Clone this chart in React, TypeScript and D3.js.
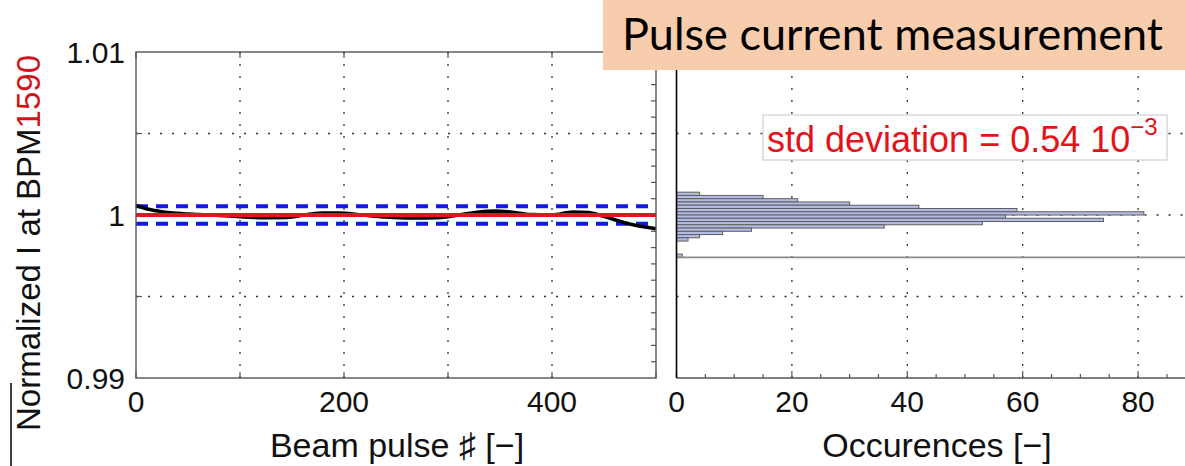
import React from "react";
import * as d3 from "d3";

// ---- data ----
const pulseIdx = [0, 12, 25, 45, 60, 90, 120, 145, 165, 180, 195, 215, 240, 265, 290, 310, 330, 345, 360, 380, 400, 420, 435, 448, 462, 478, 490, 500];
const normCurrent = [1.00058, 1.00035, 1.0002, 1.00008, 1.00003, 0.99994, 0.99984, 0.99985, 1.00003, 1.00012, 1.00012, 1.00002, 0.99988, 0.99982, 0.99984, 1.0, 1.00018, 1.00024, 1.00018, 1.00003, 1.0, 1.00018, 1.00015, 0.99995, 0.99968, 0.9994, 0.99926, 0.99916];

const binCenters = [1.0013, 1.0011, 1.0009, 1.0007, 1.0005, 1.0003, 1.0001, 0.9999, 0.9997, 0.9995, 0.9993, 0.9991, 0.9989, 0.9987, 0.9985, 0.9975];
const binCounts = [4, 15, 21, 30, 42, 59, 81, 57, 74, 53, 36, 13, 8, 4, 2, 1];
const binWidth = 0.0002;

const meanLevel = 1;
const stdDev = 0.00054;
const refLevel = 0.9974;

const yTickVals = [0.99, 1, 1.01];
const yTickLabels = ["0.99", "1", "1.01"];
const yGridVals = [0.995, 1, 1.005];
const xLeftLabels = [0, 200, 400];
const xLeftTicks = [0, 100, 200, 300, 400, 500];
const xLeftGrid = [100, 200, 300, 400];
const xRightLabels = [0, 20, 40, 60, 80];
const xRightMinor = d3.range(0, 90, 5);

const FONT = "'Liberation Sans', Arial, Helvetica, sans-serif";

export default function App() {
  const W = 1185;
  const H = 466;
  const y = d3.scaleLinear().domain([0.99, 1.01]).range([378, 52]);
  const xL = d3.scaleLinear().domain([0, 500]).range([136, 656]);
  const xR = d3.scaleLinear().domain([0, 90]).range([676.5, 676.5 + 90 * 5.77]);

  const curve = d3
    .line<number>()
    .x((_, i) => xL(pulseIdx[i]))
    .y((d) => y(d))
    .curve(d3.curveMonotoneX);

  const yMinor = d3.range(0.991, 1.0095, 0.001);
  const dot = "2,10";

  return (
    <svg
      width={W}
      height={H}
      style={{ position: "absolute", left: 0, top: 0, background: "#fff" }}
      fontFamily={FONT}
    >
      <rect x={0} y={0} width={W} height={H} fill="#fff" />

      {/* ---------- left panel ---------- */}
      <g>
        {xLeftGrid.map((v) => (
          <line key={"vg" + v} x1={xL(v)} x2={xL(v)} y1={52} y2={378} stroke="#333" strokeWidth={1.3} strokeDasharray={dot} />
        ))}
        {yGridVals.map((v) => (
          <line key={"hg" + v} x1={136} x2={656} y1={y(v)} y2={y(v)} stroke="#333" strokeWidth={1.3} strokeDasharray={dot} />
        ))}
        {xLeftTicks.map((v) => (
          <g key={"xt" + v}>
            <line x1={xL(v)} x2={xL(v)} y1={378} y2={372} stroke="#555" strokeWidth={1.2} />
            <line x1={xL(v)} x2={xL(v)} y1={52} y2={58} stroke="#555" strokeWidth={1.2} />
          </g>
        ))}
        {[0.995, 1, 1.005].map((v) => (
          <line key={"ylt" + v} x1={136} x2={142} y1={y(v)} y2={y(v)} stroke="#555" strokeWidth={1.2} />
        ))}
        {yMinor.map((v, i) => (
          <line key={"yrt" + i} x1={656} x2={651} y1={y(v)} y2={y(v)} stroke="#555" strokeWidth={1.2} />
        ))}

        {[meanLevel + stdDev, meanLevel - stdDev].map((v) => (
          <line key={"sd" + v} x1={136} x2={656} y1={y(v)} y2={y(v)} stroke="#1616e8" strokeWidth={4} strokeDasharray="12,8" />
        ))}
        <path d={curve(normCurrent) || ""} fill="none" stroke="#000" strokeWidth={3.6} />
        <line x1={136} x2={656} y1={y(meanLevel)} y2={y(meanLevel)} stroke="#e8121a" strokeWidth={3.8} />

        <rect x={136} y={52} width={520} height={326} fill="none" stroke="#555" strokeWidth={1.4} />

        {yTickVals.map((v, i) => (
          <text key={"yl" + v} x={125} y={y(v)} dy="0.36em" textAnchor="end" fontSize={30} fill="#111">
            {yTickLabels[i]}
          </text>
        ))}
        {xLeftLabels.map((v) => (
          <text key={"xl" + v} x={xL(v)} y={412} textAnchor="middle" fontSize={30} fill="#111">
            {v}
          </text>
        ))}
        <text x={397} y={457} textAnchor="middle" fontSize={34} fill="#111">
          Beam pulse ♯ [−]
        </text>
        <text transform="translate(40,243) rotate(-90)" textAnchor="middle" fontSize={33} fill="#111">
          Normalized I at BPM<tspan fill="#d0141a">1590</tspan>
        </text>
      </g>

      {/* ---------- right panel ---------- */}
      <g>
        {xRightLabels.slice(1).map((v) => (
          <line key={"rvg" + v} x1={xR(v)} x2={xR(v)} y1={52} y2={378} stroke="#333" strokeWidth={1.3} strokeDasharray={dot} />
        ))}
        {yGridVals.map((v) => (
          <line key={"rhg" + v} x1={676.5} x2={W} y1={y(v)} y2={y(v)} stroke="#333" strokeWidth={1.3} strokeDasharray={dot} />
        ))}
        {binCenters.map((c, i) => (
          <rect
            key={"bin" + i}
            x={xR(0)}
            y={y(c + binWidth / 2)}
            width={xR(binCounts[i]) - xR(0)}
            height={y(c - binWidth / 2) - y(c + binWidth / 2)}
            fill="#b4bce6"
            stroke="#5e5e5e"
            strokeWidth={1}
          />
        ))}
        <line x1={xR(0)} x2={W} y1={y(refLevel)} y2={y(refLevel)} stroke="#8a8a8a" strokeWidth={1.8} />
        {xRightMinor.map((v) => (
          <line key={"rmt" + v} x1={xR(v)} x2={xR(v)} y1={378} y2={v % 20 === 0 ? 371 : 374} stroke="#555" strokeWidth={1.2} />
        ))}
        <line x1={676.5} x2={W} y1={378} y2={378} stroke="#555" strokeWidth={1.4} />
        <line x1={676.5} x2={676.5} y1={52} y2={378} stroke="#000" strokeWidth={1.6} />
        {xRightLabels.map((v) => (
          <text key={"rxl" + v} x={xR(v)} y={412} textAnchor="middle" fontSize={30} fill="#111">
            {v}
          </text>
        ))}
        <text x={937} y={457} textAnchor="middle" fontSize={34} fill="#111">
          Occurences [−]
        </text>

        <rect x={763} y={115} width={404} height={45} fill="#fff" stroke="#cfcfcf" strokeWidth={1.2} />
        <text x={767} y={152} fontSize={36} fill="#e3121b">
          std deviation = 0.54 10<tspan dy={-17} fontSize={24}>−3</tspan>
        </text>
      </g>

      <line x1={11} x2={11} y1={383} y2={466} stroke="#000" strokeWidth={1.5} />

      {/* title box */}
      <rect x={603} y={0} width={582} height={70} fill="#F8CDAD" />
      <text x={622} y={50} fontFamily="Lato, 'Open Sans', sans-serif" fontSize={44} fill="#000" textLength={541} lengthAdjust="spacingAndGlyphs">
        Pulse current measurement
      </text>
    </svg>
  );
}
